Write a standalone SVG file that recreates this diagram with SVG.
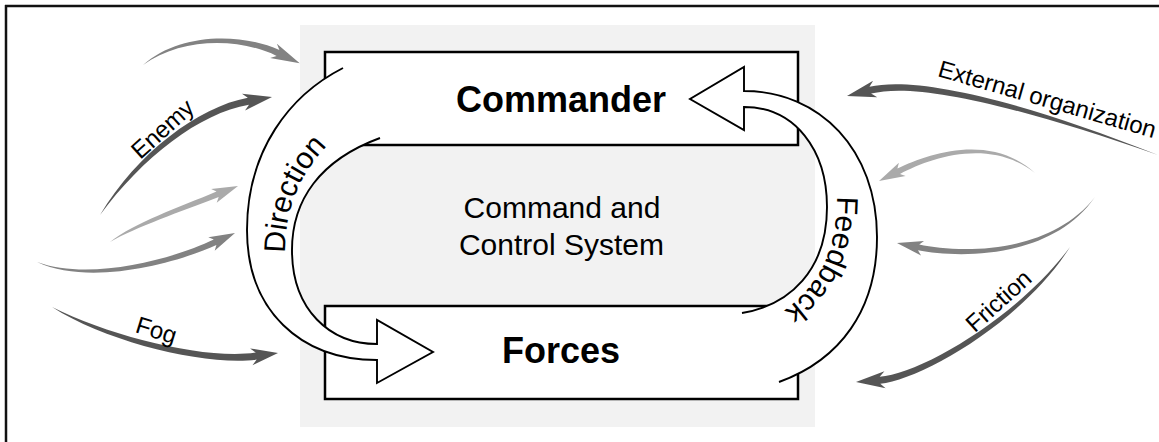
<svg xmlns="http://www.w3.org/2000/svg" width="1159" height="442" viewBox="0 0 1159 442">
<style>
  text { font-family: "Liberation Sans", Arial, Helvetica, sans-serif; fill: #000; }
  .box { fill: #fff; stroke: #000; stroke-width: 2.5; }
  .title { font-size: 36px; font-weight: bold; text-anchor: middle; }
  .center { font-size: 30px; text-anchor: middle; }
  .bandfill { fill: #fff; stroke: none; }
  .bandline { fill: none; stroke: #000; stroke-width: 1.9; stroke-linejoin: miter; }
  .bandlbl { font-size: 30px; }
  .lbl { font-size: 24px; text-anchor: middle; }
  .dark { fill: #555; }
  .mid { fill: #828282; }
  .light { fill: #aaa; }
</style>
<defs>
  <path id="dirPath" d="M285,253 C285,210 298,175 330,143"/>
  <path id="fbPath" d="M837,196 C837,250 820,285 782,312"/>
</defs>
<rect width="1159" height="442" fill="#fff"/>
<g id="frame" stroke="#111" stroke-width="2.5" fill="none">
  <line x1="5" y1="6" x2="1159" y2="6"/>
  <line x1="6" y1="5" x2="6" y2="442"/>
</g>
<g id="c2-system">
  <rect x="300" y="25" width="515" height="402" fill="#f2f2f2"/>
</g>
<g id="node-commander">
  <rect class="box" x="325" y="52" width="473" height="93"/>
  <text class="title" x="561" y="112">Commander</text>
</g>
<g id="node-forces">
  <rect class="box" x="325" y="306" width="473" height="93"/>
  <text class="title" x="561" y="363">Forces</text>
</g>
<g id="c2-label">
  <text class="center" x="562" y="218">Command and</text>
  <text class="center" x="561.5" y="255">Control System</text>
</g>
<g id="connectors">
  <g id="edge-direction">
    <path class="bandfill" d="M343,68 C290,95 247,150 247,230 C247,310 300,360 377,360 L377,383 L433,352 L377,320 L377,344 C330,344 292,310 292,250 C292,200 320,160 380,138 Z"/>
    <path class="bandline" d="M343,68 C290,95 247,150 247,230 C247,310 300,360 377,360 L377,383 L433,352 L377,320 L377,344 C330,344 292,310 292,250 C292,200 320,160 380,138"/>
    <text class="bandlbl"><textPath href="#dirPath">Direction</textPath></text>
  </g>
  <g id="edge-feedback">
    <path class="bandfill" d="M779,382 C840,360 877,310 877,237 C877,150 820,91 744,91 L744,67 L690,99 L744,130 L744,107 C795,107 827,150 827,207 C827,270 790,305 742,313 Z"/>
    <path class="bandline" d="M779,382 C840,360 877,310 877,237 C877,150 820,91 744,91 L744,67 L690,99 L744,130 L744,107 C795,107 827,150 827,207 C827,270 790,305 742,313"/>
    <text class="bandlbl"><textPath href="#fbPath">Feedback</textPath></text>
  </g>
  <g id="influences">
    <path class="mid" d="M143,65 C180.7,37.4 238.9,37.3 276.6,55.9 L270.1,58.1 L299.7,63.3 L276.9,43.7 L279.4,50.1 C241.1,32.7 179.3,32.6 143,65 Z"/>
    <path class="dark" d="M100,215 C142.5,157.4 199.5,113 249,104.7 L245,110.4 L272,97 L242,93.7 L247.8,97.8 C198.5,107 137.5,152.6 100,215 Z"/>
    <text class="lbl" x="168" y="135" transform="rotate(-42 168 135)">Enemy</text>
    <path class="light" d="M110,242 C136,227.3 181.4,211.4 218.7,197.1 L216.7,202.8 L238,186 L211.1,188.9 L216.5,191.5 C179.6,207.2 134,222.7 110,242 Z"/>
    <path class="mid" d="M37,262 C90,286.5 175.4,263.6 216.4,245 L214.7,250.8 L235,233 L208.3,237.2 L213.8,239.6 C173.2,259 90,281.5 37,262 Z"/>
    <path class="dark" d="M52,307 C108.8,343.3 207.1,366.1 256.7,359.6 L252.5,365.2 L278,353 L250.1,348.4 L255.7,352.6 C206.3,360.1 111.2,336.7 52,307 Z"/>
    <text class="lbl" x="154" y="338" transform="rotate(17 154 338)">Fog</text>
    <path class="dark" d="M1158,155 C1011,96.7 913.3,76.5 869.5,86.8 L873.1,80.8 L847,96 L877.2,97.3 L871.1,93.6 C914.7,82.3 1009,103.3 1158,155 Z"/>
    <text class="lbl" x="1045" y="107" transform="rotate(16 1045 107)">External organization</text>
    <path class="light" d="M1035,173 C990.4,132.5 929,153.5 897.4,168.5 L898.9,162.7 L879,181 L905.6,176.1 L900,173.9 C931,157.7 989.6,137.5 1035,173 Z"/>
    <path class="mid" d="M1095,197 C1049,255.7 958.3,253 919.2,244.5 L924,240.9 L897,243 L921,255.6 L918,250.3 C957.3,257.9 1051,260.3 1095,197 Z"/>
    <path class="dark" d="M1070,247 C1017.7,317.4 919.7,374.1 879.7,376.7 L884.4,371.3 L856,382 L885.6,388.3 L880.3,383.7 C920.1,380.1 1022.3,322.7 1070,247 Z"/>
    <text class="lbl" x="1004" y="307" transform="rotate(-42 1004 307)">Friction</text>
  </g>
</g>
</svg>
